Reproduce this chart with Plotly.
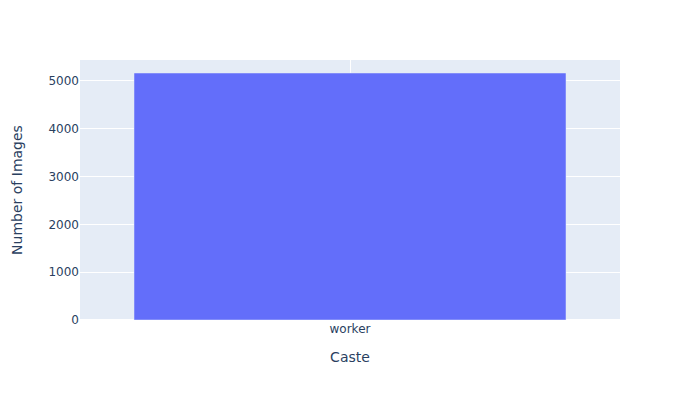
import plotly.graph_objects as go

castes = ["worker"]
counts = [5167]

fig = go.Figure(go.Bar(x=castes, y=counts))
fig.update_layout(
    width=700, height=400,
    template="plotly",
    font=dict(family="DejaVu Sans"),
    margin=dict(t=60),
    xaxis_title="Caste",
    yaxis_title="Number of Images",
    yaxis_title_standoff=22,
    xaxis_title_standoff=17,
    xaxis_showgrid=True,
)
fig.write_html("out.html")
